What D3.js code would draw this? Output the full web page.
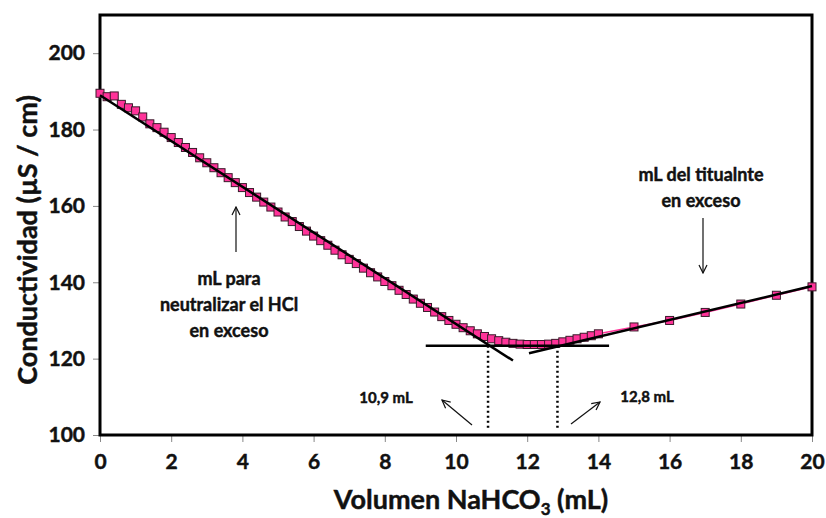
<!DOCTYPE html>
<html>
<head>
<meta charset="utf-8">
<script src="https://cdn.jsdelivr.net/npm/d3@7"></script>
<style>
  body { margin: 0; background: #fff; }
  svg text { font-family: Lato, "Open Sans", sans-serif; font-weight: bold; fill: #111;
             stroke: #111; stroke-width: 0.45px; }
</style>
</head>
<body>
<div id="container"></div>
<script>
// titration data: volume (mL) vs conductivity (µS/cm)
const volume = [
  0, 0.2, 0.4, 0.6, 0.8, 1.0, 1.2, 1.4, 1.6, 1.8,
  2.0, 2.2, 2.4, 2.6, 2.8, 3.0, 3.2, 3.4, 3.6, 3.8,
  4.0, 4.2, 4.4, 4.6, 4.8, 5.0, 5.2, 5.4, 5.6, 5.8,
  6.0, 6.2, 6.4, 6.6, 6.8, 7.0, 7.2, 7.4, 7.6, 7.8,
  8.0, 8.2, 8.4, 8.6, 8.8, 9.0, 9.2, 9.4, 9.6, 9.8,
  10.0, 10.2, 10.4, 10.6, 10.8, 11.0, 11.2, 11.4, 11.6, 11.8,
  12.0, 12.2, 12.4, 12.6, 12.8, 13.0, 13.2, 13.4, 13.6, 13.8,
  14.0, 15, 16, 17, 18, 19, 20
];
const conductivity = [
  189.5, 188.6, 188.8, 186.6, 185.7, 184.9, 183.3, 181.5, 180.5, 179.3,
  177.9, 176.6, 175.3, 174.0, 172.6, 171.3, 170.0, 168.7, 167.4, 166.1,
  164.8, 163.5, 162.3, 161.0, 159.7, 158.4, 157.1, 155.9, 154.6, 153.4,
  152.1, 150.9, 149.7, 148.4, 147.2, 146.0, 144.9, 143.7, 142.5, 141.4,
  140.2, 139.1, 137.9, 136.8, 135.6, 134.5, 133.4, 132.2, 131.0, 130.0,
  129.0, 128.1, 127.3, 126.5, 125.8, 125.2, 124.7, 124.3, 124.0, 123.8,
  123.7, 123.7, 123.7, 123.8, 124.0, 124.4, 124.8, 125.2, 125.6, 126.0,
  126.5, 128.3, 130.0, 132.1, 134.3, 136.6, 138.8
];

// hand-drawn fit lines [x1, y1, x2, y2] in data units
const fitLines = [
  [0, 189.0, 11.6, 119.5],
  [9.15, 123.4, 14.3, 123.4],
  [12.05, 121.4, 20, 139.0]
];
// equivalence points (mL)
const endPoints = [10.9, 12.85];

const xTicks = [0, 2, 4, 6, 8, 10, 12, 14, 16, 18, 20];
const yTicks = [100, 120, 140, 160, 180, 200];

const width = 826, height = 518;
const margin = {top: 15, right: 14, bottom: 83, left: 100};

const svg = d3.select('#container').append('svg')
  .attr('width', width)
  .attr('height', height);

const x = d3.scaleLinear().domain([0, 20]).range([margin.left, width - margin.right]);
const y = d3.scaleLinear().domain([100, 210]).range([height - margin.bottom, margin.top]);

// axes
const xAxis = svg.append('g')
  .attr('transform', `translate(0,${y(100)})`)
  .call(d3.axisBottom(x).tickValues(xTicks).tickSize(7).tickPadding(12).tickFormat(d3.format('d')));
const yAxis = svg.append('g')
  .attr('transform', `translate(${x(0)},0)`)
  .call(d3.axisLeft(y).tickValues(yTicks).tickSize(7).tickPadding(8));

[xAxis, yAxis].forEach(g => {
  g.select('.domain').remove();
  g.selectAll('.tick line').attr('stroke', '#888').attr('stroke-width', 1);
  g.selectAll('.tick text').style('font-size', '21px').style('font-family', 'Lato, sans-serif')
    .style('font-weight', 'bold').attr('fill', '#111');
});

// frame
svg.append('rect')
  .attr('x', x(0)).attr('y', y(210))
  .attr('width', x(20) - x(0)).attr('height', y(100) - y(210))
  .attr('fill', 'none').attr('stroke', '#000').attr('stroke-width', 3);

const data = volume.map((v, i) => [v, conductivity[i]]);

// series line
svg.append('path')
  .datum(data)
  .attr('fill', 'none')
  .attr('stroke', '#ff3399')
  .attr('stroke-width', 1.5)
  .attr('d', d3.line().x(d => x(d[0])).y(d => y(d[1])));

// markers
svg.selectAll('rect.pt').data(data).join('rect')
  .attr('class', 'pt')
  .attr('x', d => x(d[0]) - 4)
  .attr('y', d => y(d[1]) - 4)
  .attr('width', 8).attr('height', 8)
  .attr('fill', '#ff3399')
  .attr('stroke', '#3a1a2a')
  .attr('stroke-width', 1);

// fit lines
svg.selectAll('line.fit').data(fitLines).join('line')
  .attr('class', 'fit')
  .attr('x1', d => x(d[0])).attr('y1', d => y(d[1]))
  .attr('x2', d => x(d[2])).attr('y2', d => y(d[3]))
  .attr('stroke', '#000').attr('stroke-width', 2.5);

// dotted drop lines
svg.selectAll('line.drop').data(endPoints).join('line')
  .attr('class', 'drop')
  .attr('x1', d => x(d)).attr('x2', d => x(d))
  .attr('y1', y(123.4)).attr('y2', y(101.3))
  .attr('stroke', '#000').attr('stroke-width', 2.5)
  .attr('stroke-dasharray', '2,3');

// arrows
svg.append('defs').append('marker')
  .attr('id', 'arr').attr('viewBox', '0 0 10 10')
  .attr('refX', 9).attr('refY', 5)
  .attr('markerWidth', 10).attr('markerHeight', 10)
  .attr('markerUnits', 'userSpaceOnUse')
  .attr('orient', 'auto')
  .append('path').attr('d', 'M1,1 L9,5 L1,9')
  .attr('fill', 'none').attr('stroke', '#111').attr('stroke-width', 1.2);

const arrows = [
  [236, 252, 236, 207],
  [703, 218, 703, 273],
  [472, 425, 442, 400],
  [571, 424, 600, 402]
];
svg.selectAll('line.arrow').data(arrows).join('line')
  .attr('class', 'arrow')
  .attr('x1', d => d[0]).attr('y1', d => d[1])
  .attr('x2', d => d[2]).attr('y2', d => d[3])
  .attr('stroke', '#111').attr('stroke-width', 1.2)
  .attr('marker-end', 'url(#arr)');

// annotations
function block(lines, cx, y0, dy, size) {
  const t = svg.append('text').attr('text-anchor', 'middle').style('font-size', size + 'px');
  lines.forEach((s, i) => t.append('tspan').attr('x', cx).attr('y', y0 + i * dy).text(s));
}
block(['mL para', 'neutralizar el HCl', 'en exceso'], 229, 285, 26, 18);
block(['mL del titualnte', 'en exceso'], 701, 181, 26, 18);
block(['10,9 mL'], 386, 403, 0, 15);
block(['12,8 mL'], 647, 402, 0, 15);

// axis titles
const xt = svg.append('text')
  .attr('x', 471).attr('y', 509)
  .attr('text-anchor', 'middle')
  .style('font-size', '27px');
xt.append('tspan').text('Volumen NaHCO');
xt.append('tspan').text('3').style('font-size', '17px').attr('dy', 6);
xt.append('tspan').text(' (mL)').attr('dy', -6);

svg.append('text')
  .attr('transform', `translate(37,${(y(100) + y(210)) / 2 + 15}) rotate(-90)`)
  .attr('text-anchor', 'middle')
  .style('font-size', '27px')
  .text('Conductividad (µS / cm)');
</script>
</body>
</html>
